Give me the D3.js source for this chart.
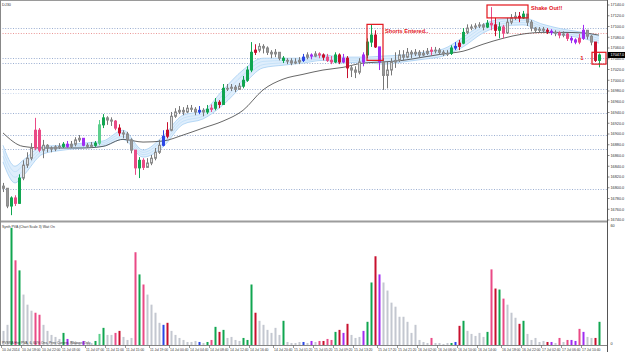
<!DOCTYPE html>
<html><head><meta charset="utf-8">
<script src="https://cdn.jsdelivr.net/npm/d3@7/dist/d3.min.js"></script>
<style>body{margin:0;background:#fff;}svg{display:block;font-family:"Liberation Sans",Arial,sans-serif;}</style>
</head><body>
<svg id="c" width="625" height="352"></svg>
<script>
// ---------- DATA ----------
const symbol = "DJ30";
const openFirst = 16803;
const closes = [
16799,16766,16781,16771,16818,16842,16855,16874,16907,16870,
16879,16874,16872,16876,16877,16881,16877,16881,16889,16892,
16879,16877,16879,16883,16917,16930,16926,16924,16911,16902,
16900,16889,16870,16837,16851,16838,16846,16855,16866,16879,
16896,16907,16933,16941,16944,16941,16948,16946,16941,16944,
16941,16946,16948,16959,16955,16985,16985,16987,16983,16989,
17000,17019,17052,17056,17063,17060,17052,17049,17052,17041,
17037,17036,17032,17034,17037,17043,17047,17045,17049,17047,
17043,17037,17034,17047,17034,17041,17023,17019,17015,17034,
17047,17071,17084,17062,17034,17009,17019,17034,17037,17047,
17043,17052,17049,17052,17047,17050,17054,17056,17056,17052,
17049,17050,17060,17063,17069,17089,17097,17099,17101,17103,
17099,17106,17103,17093,17099,17088,17108,17116,17119,17116,
17123,17108,17097,17093,17095,17093,17091,17089,17088,17084,
17086,17078,17075,17071,17078,17093,17082,17071,17037,17047];
const highs = [
16809,16799,16784,16786,16825,16851,16866,16883,16930,16911,
16889,16881,16877,16879,16883,16885,16887,16887,16894,16898,
16892,16883,16885,16887,16926,16937,16933,16931,16926,16918,
16907,16904,16892,16870,16857,16855,16855,16861,16874,16889,
16907,16922,16941,16948,16952,16950,16954,16954,16950,16952,
16948,16954,16955,16967,16963,16993,16993,16993,16991,16995,
17008,17026,17071,17067,17069,17067,17063,17056,17058,17052,
17045,17041,17041,17041,17043,17049,17052,17050,17054,17052,
17050,17049,17045,17052,17050,17049,17045,17028,17026,17041,
17052,17078,17103,17093,17062,17041,17034,17041,17052,17056,
17056,17060,17056,17058,17056,17056,17060,17062,17062,17060,
17056,17056,17065,17071,17075,17097,17104,17104,17106,17108,
17106,17112,17136,17116,17108,17103,17116,17123,17127,17127,
17129,17123,17112,17099,17099,17099,17097,17095,17093,17091,
17091,17088,17082,17078,17086,17103,17093,17084,17071,17050];
const lows = [
16792,16762,16749,16766,16770,16814,16837,16851,16870,16866,
16855,16866,16866,16868,16872,16874,16874,16874,16877,16885,
16877,16874,16874,16876,16879,16911,16917,16915,16907,16896,
16892,16883,16864,16824,16818,16833,16837,16842,16851,16863,
16877,16892,16905,16930,16937,16935,16939,16941,16935,16937,
16933,16937,16941,16944,16948,16955,16980,16980,16978,16982,
16985,16997,17015,17047,17052,17050,17047,17041,17043,17037,
17032,17030,17028,17030,17030,17034,17039,17039,17043,17041,
17037,17034,17030,17032,17030,17032,17004,17006,17004,17011,
17026,17041,17062,17060,17019,16982,16985,17009,17023,17034,
17037,17041,17041,17045,17043,17045,17047,17047,17050,17047,
17045,17045,17047,17056,17056,17067,17086,17093,17095,17097,
17093,17097,17093,17082,17078,17078,17086,17104,17112,17108,
17114,17101,17091,17088,17089,17088,17086,17084,17082,17078,
17080,17073,17069,17067,17067,17075,17076,17065,17034,17024];
// PVSRA class per bar: n normal, g/G climax bull, r climax bear, k/v above-average bear, b above-average bull
const colors = [
'n','n','g','k','g','n','n','n','k','k',
'n','n','n','n','n','g','v','n','n','n',
'v','n','n','g','G','g','n','n','k','r',
'n','n','n','k','g','k','n','n','n','n',
'b','r','n','n','n','n','n','n','n','b',
'n','g','k','g','r','g','n','n','n','n',
'g','g','g','r','n','n','n','n','n','n',
'g','n','n','n','n','b','n','v','n','k',
'r','k','k','g','r','v','r','n','n','n',
'v','g','g','r','v','n','n','n','n','n',
'n','n','n','n','n','n','n','k','n','n',
'n','n','g','b','r','g','n','n','n','n',
'n','g','k','r','g','k','n','n','n','r',
'g','n','n','n','n','n','r','v','n','k',
'n','k','v','v','k','v','n','n','r','g'];
const volumes = [
7,10,58,42,37,25,20,17,16,15,
10,7,5,4,3,6,3,2,1,1,
2,1,1,2,5.5,8.5,5,5,6,7,
4,2.5,3.5,46,35,30,25,20,16,11,
10,11,7,5,3.5,2.5,1.5,1.5,2,1.5,
1,1.5,2.5,9,6.5,7.5,3.5,4,2.5,2,
3.5,2.5,30,16,12,10,7.5,6,8.5,5,
12,1.5,1,1,1.5,1.5,1,2,1.5,2,
2,3,2.5,6.5,7.5,6,10.5,5,3.5,4,
7,11.5,31,44,35,31,27,21,19,14,
14,11.5,6,10,2.5,1.5,1,3.5,1,1,
0.5,1,1,1.5,9.5,12,7,5.5,4.5,6,
4,6.5,37.5,28,27.5,23,20,16,13.5,10.5,
12,5.5,2.5,3.5,1.5,2,1.5,1.5,1,3.5,
1.5,2.5,2.5,2,8,6.5,4,3.5,3.5,11.5];
// moving-average ribbon (upper / lower) and slow MA
const bandIdx = [0,3,5,10,15,20,25,30,35,40,45,50,55,60,65,70,75,80,85,90,95,100,105,110,115,120,125,130,135,140,145,149];
const bandHi = [16879,16840,16851,16877,16879,16883,16887,16907,16870,16896,16935,16943,16982,17019,17041,17041,17041,17047,17043,17043,17045,17047,17052,17058,17080,17104,17114,17116,17104,17095,17089,17082];
const bandLo = [16848,16809,16822,16863,16870,16874,16877,16890,16857,16876,16918,16928,16954,16991,17023,17028,17032,17037,17032,17034,17030,17034,17039,17045,17062,17088,17101,17103,17091,17084,17078,17069];
const maIdx = [0,5,10,15,20,25,30,35,40,45,50,55,60,65,70,75,80,85,90,95,100,105,110,115,120,125,130,135,140,145,149];
const maVal = [16902,16877,16874,16874,16874,16877,16890,16885,16887,16898,16911,16924,16944,16982,17002,17011,17019,17024,17032,17034,17037,17043,17049,17054,17067,17078,17086,17089,17089,17088,17084];
// horizontal levels
const levels = [17097,17088,17041,17032,16983,16976,16939,16898,16872,16797];
const levelKind = ['b','r','b','b','b','l','b','b','b','b'];
// axes
const priceTicks = [17140,17120,17100,17080,17060,17040,17020,17000,16980,16960,16940,16920,16900,16880,16860,16840,16820,16800,16780,16760,16740];
const timeTickIdx = [0,5,10,15,21,26,31,37,42,47,52,57,62,68,73,78,83,88,94,99,104,109,114,119,125,130,135,140,145];
const timeLabels = ["10 Jul 2014","10 Jul 18:00","10 Jul 22:00","11 Jul 03:00","11 Jul 07:00","11 Jul 11:00","11 Jul 15:00","11 Jul 19:00","14 Jul 00:40","14 Jul 04:40","14 Jul 08:40","14 Jul 12:40","14 Jul 16:40","14 Jul 20:40","15 Jul 01:20","15 Jul 05:20","15 Jul 09:20","15 Jul 13:20","15 Jul 17:20","15 Jul 21:20","16 Jul 02:00","16 Jul 06:00","16 Jul 10:00","16 Jul 14:00","16 Jul 18:00","16 Jul 22:00","17 Jul 02:40","17 Jul 06:40","17 Jul 10:40"];
const volTicks = [60,0];
// annotations (bar index range, price range)
const boxes = [{i0:91,i1:95,p0:17104,p1:17037},{i0:121,i1:131.25,p0:17140,p1:17116},{i0:147.25,i1:150.75,p0:17052,p1:17030}];
const notes = [{i:95.5,p:17087,t:"Shorts Entered.."},{i:132,p:17130,t:"Shake Out!!"},{i:144.3,p:17038,t:"1"}];
const volTitle = "Synth PVA  (Chart Scale 3)  Wait On";
const volFooter = "PVSRA Hist PVA, 6, 60% Ons, Prev Current, Ribbons Only";

// ---------- DRAW ----------
const svg = d3.select('#c');
const AX = 607;
const x = d3.scaleLinear().domain([0,149]).range([3,599]);
const y = d3.scaleLinear().domain([16740,17140]).range([220,5]);
const yv = d3.scaleLinear().domain([0,60]).range([345,224]);
const pal = {g:'#10a650',G:'#5ccf8c',r:'#c8102e',k:'#ea4a86',v:'#a02cf2',b:'#2a46e6'};

svg.append('defs').append('clipPath').attr('id','mainclip').append('rect').attr('x',0).attr('y',1).attr('width',AX).attr('height',219.5);
const main = svg.append('g').attr('clip-path','url(#mainclip)');

// levels
main.selectAll('line.lv').data(levels).join('line')
  .attr('x1',0).attr('x2',AX).attr('y1',d=>Math.round(y(d))+0.5).attr('y2',d=>Math.round(y(d))+0.5)
  .attr('stroke',(d,i)=>levelKind[i]==='r'?'#e88a8a':(levelKind[i]==='l'?'#c9d7ec':'#8fa5cc'))
  .attr('stroke-width',0.9).attr('stroke-dasharray','1,1.6');

// ribbon
const band = bandIdx.map((d,i)=>({i:d,hi:bandHi[i],lo:bandLo[i]}));
main.append('path').datum(band)
  .attr('d',d3.area().x(d=>x(d.i)).y0(d=>y(d.lo)).y1(d=>y(d.hi)).curve(d3.curveMonotoneX))
  .attr('fill','#dfeefc');
[0,0.33,0.66,1].forEach(f=>{
  main.append('path').datum(band)
    .attr('d',d3.line().x(d=>x(d.i)).y(d=>y(d.hi+(d.lo-d.hi)*f)).curve(d3.curveMonotoneX))
    .attr('fill','none').attr('stroke',(f===0||f===1)?'#a6cff3':'#bfdef8').attr('stroke-width',0.8);
});
// slow MA
main.append('path').datum(maIdx.map((d,i)=>({i:d,v:maVal[i]})))
  .attr('d',d3.line().x(d=>x(d.i)).y(d=>y(d.v)).curve(d3.curveMonotoneX))
  .attr('fill','none').attr('stroke','#404040').attr('stroke-width',0.8);

// candles
const bars = closes.map((c,i)=>({i,o:i===0?openFirst:closes[i-1],h:highs[i],l:lows[i],c,col:colors[i],v:volumes[i]}));
const cg = main.append('g');
cg.selectAll('line').data(bars).join('line')
  .attr('x1',d=>x(d.i)+0.5).attr('x2',d=>x(d.i)+0.5)
  .attr('y1',d=>y(d.h)).attr('y2',d=>y(d.l))
  .attr('stroke',d=>d.col==='n'?'#777':pal[d.col]).attr('stroke-width',1);
cg.selectAll('rect').data(bars).join('rect')
  .attr('x',d=>x(d.i)-0.5).attr('width',2)
  .attr('y',d=>y(Math.max(d.o,d.c)))
  .attr('height',d=>Math.max(0.8,Math.abs(y(d.o)-y(d.c))))
  .attr('fill',d=>d.col==='n'?(d.c>=d.o?'#e0e0e0':'#999'):pal[d.col])
  .attr('stroke',d=>d.col==='n'?'#8c8c8c':pal[d.col]).attr('stroke-width',1);

// annotations
main.selectAll('rect.box').data(boxes).join('rect')
  .attr('x',d=>x(d.i0)).attr('y',d=>y(d.p0))
  .attr('width',d=>x(d.i1)-x(d.i0)).attr('height',d=>y(d.p1)-y(d.p0))
  .attr('fill','none').attr('stroke','#e3141c').attr('stroke-width',1.2);
svg.selectAll('text.note').data(notes).join('text')
  .attr('x',d=>x(d.i)).attr('y',d=>y(d.p))
  .attr('fill','#e3141c').attr('font-weight','bold').attr('font-size',d=>d.t==='1'?6:5.6)
  .text(d=>d.t);

// symbol
svg.append('text').attr('x',2).attr('y',5.5).attr('font-size',3.8).attr('fill','#333').text(symbol);

// volume panel
const vg = svg.append('g');
vg.selectAll('rect').data(bars).join('rect')
  .attr('x',d=>x(d.i)-0.5).attr('width',2)
  .attr('y',d=>yv(d.v)).attr('height',d=>yv(0)-yv(d.v))
  .attr('fill',d=>d.col==='n'?'#c3c7d0':pal[d.col]);
svg.append('text').attr('x',2).attr('y',227.5).attr('font-size',3.4).attr('fill','#333').text(volTitle);
svg.append('text').attr('x',2).attr('y',344).attr('font-size',3.4).attr('fill','#333').text(volFooter);

// frame
svg.append('line').attr('x1',0).attr('x2',AX).attr('y1',0.5).attr('y2',0.5).attr('stroke','#9a9a9a');
svg.append('line').attr('x1',0).attr('x2',AX).attr('y1',221.5).attr('y2',221.5).attr('stroke','#9c9c9c').attr('stroke-width',2);
svg.append('line').attr('x1',0).attr('x2',AX).attr('y1',345.5).attr('y2',345.5).attr('stroke','#666').attr('stroke-width',0.8);
svg.append('line').attr('x1',0.5).attr('x2',0.5).attr('y1',0).attr('y2',346).attr('stroke','#888');
svg.append('line').attr('x1',AX+0.5).attr('x2',AX+0.5).attr('y1',0).attr('y2',352).attr('stroke','#555');

// price axis
const pa = svg.append('g');
pa.selectAll('line').data(priceTicks).join('line')
  .attr('x1',AX).attr('x2',AX+2.5).attr('y1',d=>y(d)).attr('y2',d=>y(d)).attr('stroke','#555').attr('stroke-width',0.7);
pa.selectAll('text').data(priceTicks).join('text')
  .attr('x',AX+3.5).attr('y',d=>y(d)+1.4).attr('font-size',3.8).attr('fill','#333')
  .text(d=>d3.format('.1f')(d));
// current price
const last = closes[closes.length-1];
svg.append('rect').attr('x',AX+1).attr('y',y(last)-3).attr('width',17).attr('height',6).attr('fill','#000');
svg.append('text').attr('x',AX+3.5).attr('y',y(last)+1.4).attr('font-size',3.8).attr('fill','#fff').text(d3.format('.1f')(last));

// volume axis
svg.selectAll('text.va').data(volTicks).join('text')
  .attr('x',AX+3.5).attr('y',d=>yv(d)+(d===0?-0.5:3)).attr('font-size',3.8).attr('fill','#333').text(d=>d);

// time axis
const ta = svg.append('g');
ta.selectAll('line').data(timeTickIdx).join('line')
  .attr('x1',d=>x(d)-1.5).attr('x2',d=>x(d)-1.5).attr('y1',345.5).attr('y2',348).attr('stroke','#555').attr('stroke-width',0.6);
ta.selectAll('text').data(timeTickIdx).join('text')
  .attr('x',d=>x(d)-1).attr('y',351).attr('font-size',3.4).attr('fill','#333')
  .text((d,i)=>timeLabels[i]);
</script>
</body></html>
